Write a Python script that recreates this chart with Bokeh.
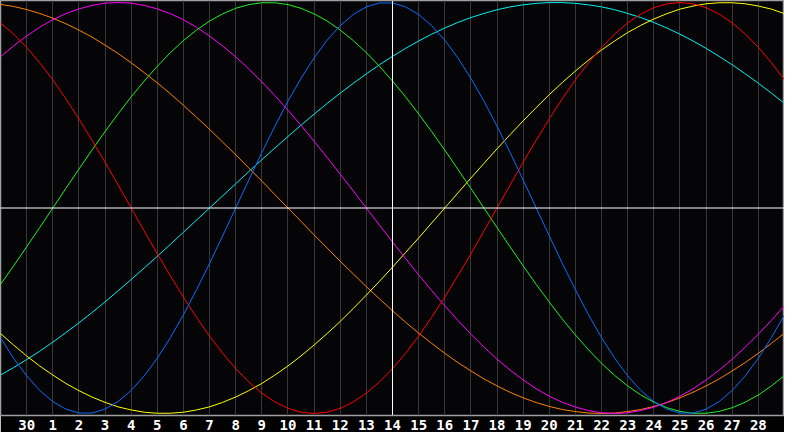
from bokeh.plotting import figure
from bokeh.models import Range1d, FixedTicker, Span
from bokeh.embed import file_html
from bokeh.resources import INLINE

# Sampling grid: half-day steps across the 30-day window (0 .. 30)
day_pos = [d / 2 for d in range(61)]
tick_days = list(range(1, 30))
tick_labels = ["30", "1", "2", "3", "4", "5", "6", "7", "8", "9", "10", "11", "12",
               "13", "14", "15", "16", "17", "18", "19", "20", "21", "22", "23",
               "24", "25", "26", "27", "28"]
today_label = "14"

# Cycle values every half day (-1 .. 1)
physical = [-0.631, -0.731, -0.817, -0.888, -0.942, -0.979, -0.998, -0.998, -0.979, -0.942,
            -0.888, -0.817, -0.731, -0.631, -0.520, -0.398, -0.270, -0.136, 0.0, 0.136,
            0.270, 0.398, 0.520, 0.631, 0.731, 0.817, 0.888, 0.942, 0.979, 0.998,
            0.998, 0.979, 0.942, 0.888, 0.817, 0.731, 0.631, 0.520, 0.398, 0.270,
            0.136, 0.0, -0.136, -0.270, -0.398, -0.520, -0.631, -0.731, -0.817, -0.888,
            -0.942, -0.979, -0.998, -0.998, -0.979, -0.942, -0.888, -0.817, -0.731, -0.631,
            -0.520]
emotional = [0.901, 0.847, 0.782, 0.707, 0.624, 0.532, 0.434, 0.330, 0.223, 0.112,
             0.0, -0.112, -0.223, -0.330, -0.434, -0.532, -0.624, -0.707, -0.782, -0.847,
             -0.901, -0.944, -0.975, -0.994, -1.0, -0.994, -0.975, -0.944, -0.901, -0.847,
             -0.782, -0.707, -0.624, -0.532, -0.434, -0.330, -0.223, -0.112, 0.0, 0.112,
             0.223, 0.330, 0.434, 0.532, 0.624, 0.707, 0.782, 0.847, 0.901, 0.944,
             0.975, 0.994, 1.0, 0.994, 0.975, 0.944, 0.901, 0.847, 0.782, 0.707,
             0.624]
intellectual = [-0.372, -0.282, -0.189, -0.095, 0.0, 0.095, 0.189, 0.282, 0.372, 0.458,
                0.541, 0.618, 0.690, 0.756, 0.815, 0.866, 0.910, 0.945, 0.972, 0.990,
                0.999, 0.999, 0.990, 0.972, 0.945, 0.910, 0.866, 0.815, 0.756, 0.690,
                0.618, 0.541, 0.458, 0.372, 0.282, 0.189, 0.095, 0.0, -0.095, -0.189,
                -0.282, -0.372, -0.458, -0.541, -0.618, -0.690, -0.756, -0.815, -0.866, -0.910,
                -0.945, -0.972, -0.990, -0.999, -0.999, -0.990, -0.972, -0.945, -0.910, -0.866,
                -0.815]
intuitive = [0.736, 0.789, 0.837, 0.880, 0.916, 0.946, 0.969, 0.986, 0.997, 1.0,
             0.997, 0.986, 0.969, 0.946, 0.916, 0.880, 0.837, 0.789, 0.736, 0.677,
             0.614, 0.547, 0.476, 0.402, 0.325, 0.246, 0.165, 0.083, 0.0, -0.083,
             -0.165, -0.246, -0.325, -0.402, -0.476, -0.547, -0.614, -0.677, -0.736, -0.789,
             -0.837, -0.880, -0.916, -0.946, -0.969, -0.986, -0.997, -1.0, -0.997, -0.986,
             -0.969, -0.946, -0.916, -0.880, -0.837, -0.789, -0.736, -0.677, -0.614, -0.547,
             -0.476]
aesthetic = [-0.611, -0.667, -0.720, -0.769, -0.813, -0.854, -0.889, -0.920, -0.946, -0.968,
             -0.983, -0.994, -0.999, -0.999, -0.994, -0.983, -0.968, -0.946, -0.920, -0.889,
             -0.854, -0.813, -0.769, -0.720, -0.667, -0.611, -0.552, -0.489, -0.424, -0.357,
             -0.288, -0.217, -0.146, -0.073, 0.0, 0.073, 0.146, 0.217, 0.288, 0.357,
             0.424, 0.489, 0.552, 0.611, 0.667, 0.720, 0.769, 0.813, 0.854, 0.889,
             0.920, 0.946, 0.968, 0.983, 0.994, 0.999, 0.999, 0.994, 0.983, 0.968,
             0.946]
awareness = [0.991, 0.981, 0.966, 0.947, 0.924, 0.897, 0.866, 0.832, 0.793, 0.752,
             0.707, 0.659, 0.609, 0.556, 0.500, 0.442, 0.383, 0.321, 0.259, 0.195,
             0.131, 0.065, 0.0, -0.065, -0.131, -0.195, -0.259, -0.321, -0.383, -0.442,
             -0.500, -0.556, -0.609, -0.659, -0.707, -0.752, -0.793, -0.832, -0.866, -0.897,
             -0.924, -0.947, -0.966, -0.981, -0.991, -0.998, -1.0, -0.998, -0.991, -0.981,
             -0.966, -0.947, -0.924, -0.897, -0.866, -0.832, -0.793, -0.752, -0.707, -0.659,
             -0.609]
spiritual = [-0.813, -0.777, -0.738, -0.697, -0.653, -0.607, -0.559, -0.509, -0.457, -0.403,
             -0.348, -0.292, -0.235, -0.177, -0.118, -0.059, 0.0, 0.059, 0.118, 0.177,
             0.235, 0.292, 0.348, 0.403, 0.457, 0.509, 0.559, 0.607, 0.653, 0.697,
             0.738, 0.777, 0.813, 0.846, 0.876, 0.903, 0.927, 0.947, 0.965, 0.979,
             0.989, 0.996, 1.0, 1.0, 0.996, 0.989, 0.979, 0.965, 0.947, 0.927,
             0.903, 0.876, 0.846, 0.813, 0.777, 0.738, 0.697, 0.653, 0.607, 0.559,
             0.509]

series = [
    (spiritual, "#00f0f0"),
    (awareness, "#ff8000"),
    (aesthetic, "#ffff00"),
    (intuitive, "#ff00ff"),
    (intellectual, "#20f020"),
    (emotional, "#ff0000"),
    (physical, "#0a6cff"),
]

p = figure(width=784, height=432, output_backend="svg", toolbar_location=None,
           x_range=Range1d(0, 30), y_range=Range1d(-1.01, 1.01),
           y_axis_location=None,
           background_fill_color="#050508", border_fill_color="#000000",
           outline_line_color="#a0a0a0", outline_line_width=1.5,
           min_border=0, min_border_left=0, min_border_right=0, min_border_top=0)

p.xgrid.ticker = FixedTicker(ticks=tick_days)
p.xgrid.grid_line_color = "#383838"
p.xgrid.grid_line_width = 1
p.ygrid.visible = False

ax = p.xaxis[0]
ax.ticker = FixedTicker(ticks=tick_days)
ax.major_label_overrides = {d: l for d, l in zip(tick_days, tick_labels)}
ax.axis_line_color = None
ax.major_tick_line_color = None
ax.minor_tick_line_color = None
ax.major_tick_in = 0
ax.major_tick_out = 0
ax.major_label_standoff = 4
ax.major_label_text_color = "#ffffff"
ax.major_label_text_font = "DejaVu Sans Mono"
ax.major_label_text_font_style = "bold"
ax.major_label_text_font_size = "14px"

p.add_layout(Span(location=0, dimension="width", line_color="#ffffff", line_width=1))
today_index = tick_days[tick_labels.index(today_label)]
p.add_layout(Span(location=today_index, dimension="height", line_color="#ffffff", line_width=1))

for vals, col in series:
    p.line(day_pos, vals, line_color=col, line_width=1)

open("out.html", "w").write(file_html(p, INLINE))
